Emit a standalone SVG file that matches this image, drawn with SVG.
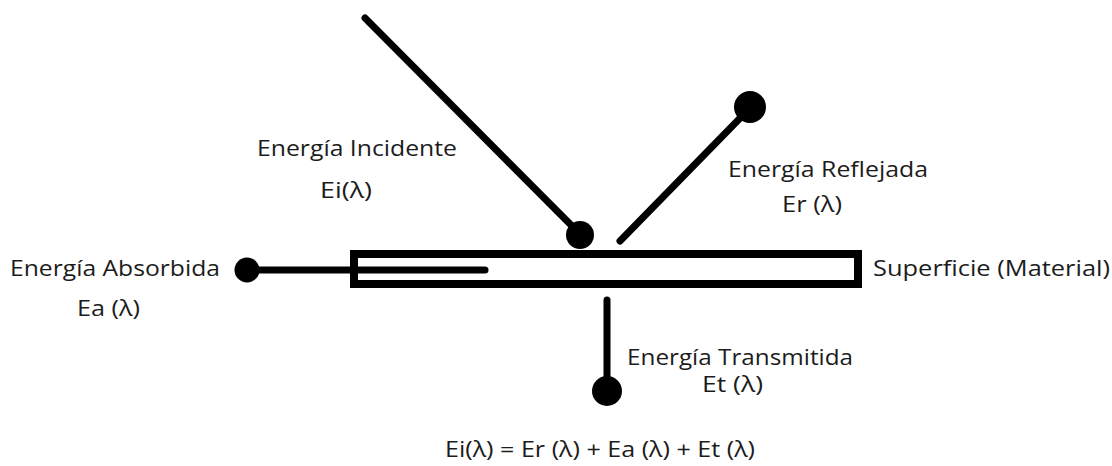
<svg xmlns="http://www.w3.org/2000/svg" width="1112" height="466" viewBox="0 0 1112 466">
<style>
.t{font-family:"Open Sans","Liberation Sans",sans-serif;font-size:21.5px;fill:#1c1c1c}
.m{text-anchor:middle}
.ln{stroke:#000;stroke-width:7;stroke-linecap:round;fill:none}
.dot{fill:#000}
</style>
<rect width="1112" height="466" fill="#fff"/>
<g id="surface">
<rect x="354" y="254" width="504" height="30" fill="none" stroke="#000" stroke-width="8"/>
<text class="t" x="873" y="276" textLength="237" lengthAdjust="spacingAndGlyphs">Superficie (Material)</text>
</g>
<g id="connectors">
<line class="ln" x1="365" y1="18" x2="578" y2="232"/>
<line class="ln" x1="620" y1="241" x2="748" y2="110"/>
<line class="ln" x1="248" y1="270" x2="485" y2="270"/>
<line class="ln" x1="607" y1="300" x2="607" y2="388"/>
</g>
<g id="incident">
<circle class="dot" cx="580" cy="235" r="14"/>
<text class="t" x="257" y="156" textLength="200" lengthAdjust="spacingAndGlyphs">Energía Incidente</text>
<text class="t" x="320" y="198" textLength="52" lengthAdjust="spacingAndGlyphs">Ei(λ)</text>
</g>
<g id="reflected">
<circle class="dot" cx="750" cy="107" r="16"/>
<text class="t" x="728" y="177" textLength="200" lengthAdjust="spacingAndGlyphs">Energía Reflejada</text>
<text class="t" x="782" y="212" textLength="60" lengthAdjust="spacingAndGlyphs">Er (λ)</text>
</g>
<g id="absorbed">
<circle class="dot" cx="247" cy="270" r="12.5"/>
<text class="t" x="10" y="276" textLength="210" lengthAdjust="spacingAndGlyphs">Energía Absorbida</text>
<text class="t" x="77" y="316" textLength="63" lengthAdjust="spacingAndGlyphs">Ea (λ)</text>
</g>
<g id="transmitted">
<circle class="dot" cx="607" cy="391" r="15"/>
<text class="t" x="627" y="365" textLength="226" lengthAdjust="spacingAndGlyphs">Energía Transmitida</text>
<text class="t" x="702" y="392" textLength="61" lengthAdjust="spacingAndGlyphs">Et (λ)</text>
</g>
<g id="equation">
<text class="t" x="445" y="457" textLength="310" lengthAdjust="spacingAndGlyphs">Ei(λ) = Er (λ) + Ea (λ) + Et (λ)</text>
</g>
</svg>
